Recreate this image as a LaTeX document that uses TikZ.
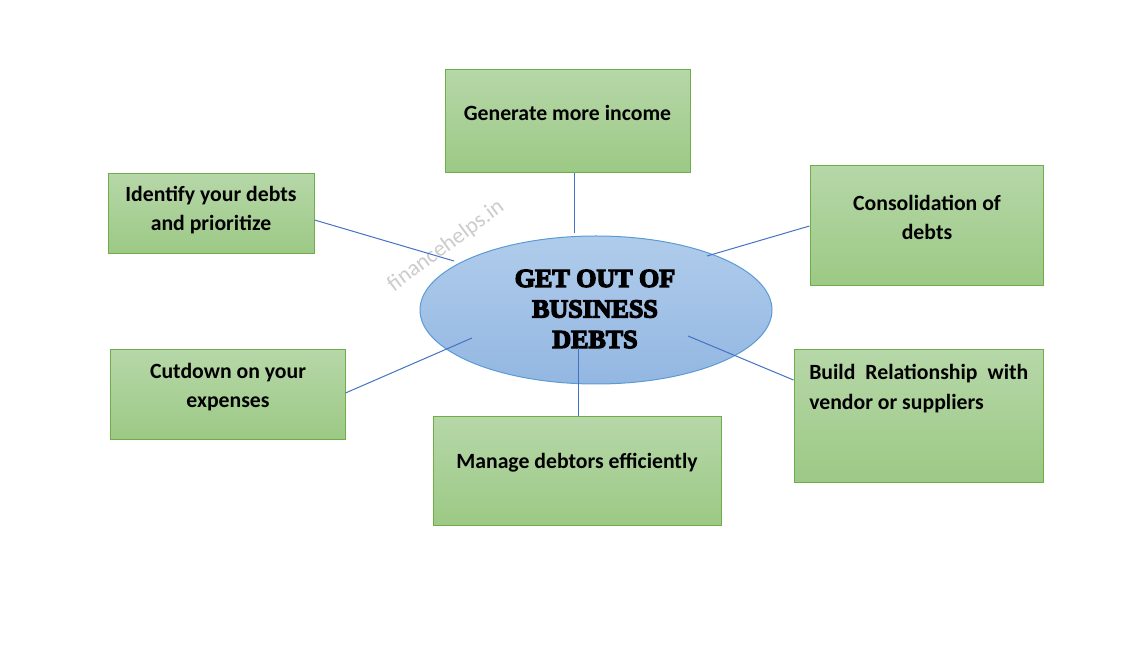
\documentclass[tikz,border=0pt]{standalone}
\usepackage{fontspec}
\setmainfont{Carlito}
\newfontfamily\headfont{Liberation Serif}[BoldFeatures={FakeBold=5}]
\usetikzlibrary{calc,shapes.geometric}
\definecolor{boxtop}{HTML}{B6D7A8}
\definecolor{boxbot}{HTML}{9CC985}
\definecolor{boxline}{HTML}{70AD47}
\definecolor{elltop}{HTML}{B0CCEB}
\definecolor{ellbot}{HTML}{93B7E2}
\definecolor{ellline}{HTML}{5B9BD5}
\definecolor{conn}{HTML}{4472C4}
\tikzset{
  greenbox/.style={draw=boxline, line width=0.75pt, top color=boxtop, bottom color=boxbot, rectangle, inner sep=0pt},
  boxtext/.style={font=\fontsize{16.3pt}{21.75pt}\selectfont\bfseries, align=center, inner sep=0pt},
  link/.style={draw=conn, line width=0.75pt},
}
\begin{document}
\begin{tikzpicture}[x=0.75pt,y=-0.75pt]
\useasboundingbox (0,0) rectangle (1122,655);
\fill[white] (0,0) rectangle (1122,655);
% boxes
\node[greenbox, minimum width=245*0.75pt, minimum height=103*0.75pt] (gen) at (567.5,121.5) {};
\node[greenbox, minimum width=206*0.75pt, minimum height=80*0.75pt] (idf) at (211,214) {};
\node[greenbox, minimum width=233*0.75pt, minimum height=120*0.75pt] (con) at (926.5,226) {};
\node[greenbox, minimum width=235*0.75pt, minimum height=90*0.75pt] (cut) at (227.5,395) {};
\node[greenbox, minimum width=288*0.75pt, minimum height=109*0.75pt] (man) at (577,471.5) {};
\node[greenbox, minimum width=249*0.75pt, minimum height=133*0.75pt] (bld) at (918.5,416.5) {};
% ellipse
\node[ellipse, draw=ellline, line width=0.75pt, top color=elltop, bottom color=ellbot, minimum width=352*0.75pt, minimum height=148*0.75pt, inner sep=0pt] (core) at (596,310) {};
% texts
\node[boxtext] (tgen) at (567.5,113) {Generate more income};
\node[boxtext] (tidf) at (211,210.5) {Identify your debts\\and prioritize};
\node[boxtext] (tcon) at (927,217.5) {Consolidation of\\debts};
\node[boxtext] (tcut) at (228,387.5) {Cutdown on your\\expenses};
\node[boxtext] (tman) at (577,463) {Manage debtors efficiently};
\node[boxtext, align=left, anchor=west, font=\fontsize{16.3pt}{23pt}\selectfont\bfseries] (tbld) at (809,388.5) {\makebox[164.25pt][s]{Build Relationship with}\\vendor or suppliers};
\node[font=\headfont\bfseries\fontsize{19.5pt}{22.9pt}\selectfont, align=center, inner sep=0pt] (tcore) at (595,309) {GET OUT OF\\BUSINESS\\DEBTS};
% watermark
\node[font=\fontsize{16.9pt}{18pt}\selectfont, text=black!20, rotate=36.5, inner sep=0pt] (wm) at (446,246) {financehelps.in};
% connector ends
\coordinate (egen) at (574,233);
\coordinate (eidf) at (454,261);
\coordinate (econ) at (707,256);
\coordinate (ecut) at (472,338);
\coordinate (eman) at (578,348);
\coordinate (ebld) at (688,336);
% connectors
\draw[link] ($(gen.south)+(6.5,0)$) -- (egen);
\draw[link] ($(idf.east)+(0,6)$) -- (eidf);
\draw[link] (con.west) -- (econ);
\draw[link] ($(cut.east)+(0,-2)$) -- (ecut);
\draw[link] ($(man.north)+(1,0)$) -- (eman);
\draw[link] ($(bld.west)+(0,-36.5)$) -- (ebld);
\end{tikzpicture}
\end{document}
